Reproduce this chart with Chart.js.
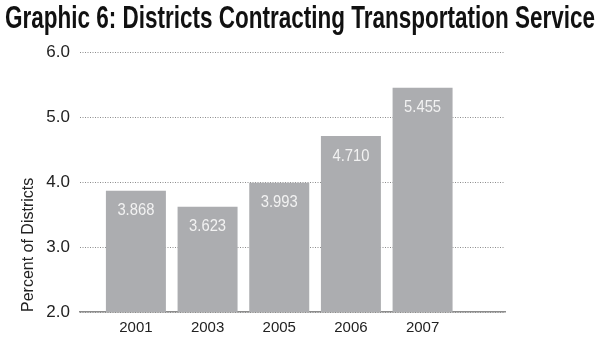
<!DOCTYPE html>
<html>
<head>
<meta charset="utf-8">
<script src="https://cdn.jsdelivr.net/npm/chart.js@4/dist/chart.umd.min.js"></script>
<style>
  html, body { margin: 0; padding: 0; background: #ffffff; }
  #wrap { width: 600px; height: 343px; position: relative; }
</style>
</head>
<body>
<div id="wrap"><canvas id="chart" width="600" height="343"></canvas></div>
<script>
// School years shown along the bottom axis
const years = ['2001', '2003', '2005', '2006', '2007'];
// Percent of districts contracting transportation service
const percents = [3.868, 3.623, 3.993, 4.710, 5.455];
// Value-axis ticks
const yTicks = [2, 3, 4, 5, 6];

const FONT = "'Liberation Sans Narrow', 'Arial Narrow', 'Liberation Sans', sans-serif";

// White value labels printed just inside the top of each bar (slightly condensed)
const barValueLabels = {
  id: 'barValueLabels',
  afterDatasetsDraw(chart) {
    const ctx = chart.ctx;
    const meta = chart.getDatasetMeta(0);
    const squeeze = 0.87;
    ctx.save();
    ctx.font = '17px ' + FONT;
    ctx.fillStyle = '#f2f2f2';
    ctx.textAlign = 'center';
    ctx.textBaseline = 'middle';
    meta.data.forEach((bar, i) => {
      ctx.save();
      ctx.translate(bar.x, bar.y + 20);
      ctx.scale(squeeze, 1);
      ctx.fillText(percents[i].toFixed(3), 0, 0);
      ctx.restore();
    });
    ctx.restore();
  }
};

new Chart(document.getElementById('chart'), {
  type: 'bar',
  data: {
    datasets: [{
      data: percents.map((v, i) => ({ x: i, y: v })),
      backgroundColor: '#acadb0',
      borderWidth: 0,
      categoryPercentage: 0.837,
      barPercentage: 1
    }]
  },
  options: {
    responsive: false,
    animation: false,
    devicePixelRatio: 1,
    layout: { padding: { left: 5, right: 5, top: 0, bottom: 0 } },
    plugins: {
      legend: { display: false },
      tooltip: { enabled: false },
      title: {
        display: true,
        text: 'Graphic 6: Districts Contracting Transportation Service',
        align: 'start',
        color: '#111111',
        font: { family: FONT, size: 32, weight: 'bold' },
        padding: { top: 0, bottom: 14 }
      }
    },
    scales: {
      x: {
        type: 'linear',
        offset: false,
        min: -0.78,
        max: 5.15,
        grid: { display: false, drawTicks: false },
        border: { display: true, color: '#8c8c8c', width: 1.5 },
        afterBuildTicks(scale) {
          scale.ticks = years.map((_, i) => ({ value: i }));
        },
        afterFit(scale) { scale.height = 31; },
        ticks: {
          padding: 7,
          color: '#222222',
          font: { family: FONT, size: 15 },
          callback: (v) => years[v] ?? ''
        }
      },
      y: {
        min: 2,
        max: 6,
        afterBuildTicks(scale) {
          scale.ticks = yTicks.map((v) => ({ value: v }));
        },
        afterFit(scale) { scale.width = 75; },
        grid: { color: '#8c8c8c', lineWidth: 1, drawTicks: false },
        border: { display: false, dash: [1, 1.5] },
        ticks: {
          padding: 10,
          color: '#222222',
          font: { family: FONT, size: 17 },
          callback: (v) => v.toFixed(1)
        },
        title: {
          display: true,
          text: 'Percent of Districts',
          align: 'start',
          color: '#222222',
          font: { family: FONT, size: 16 },
          padding: { top: 14, bottom: 0 }
        }
      },
      // blank margin to the right of the plot
      margin: {
        type: 'linear',
        position: 'right',
        min: 2,
        max: 6,
        grid: { display: false, drawTicks: false },
        border: { display: false },
        ticks: { display: false },
        afterFit(scale) { scale.width = 90; }
      }
    }
  },
  plugins: [barValueLabels]
});
</script>
</body>
</html>
